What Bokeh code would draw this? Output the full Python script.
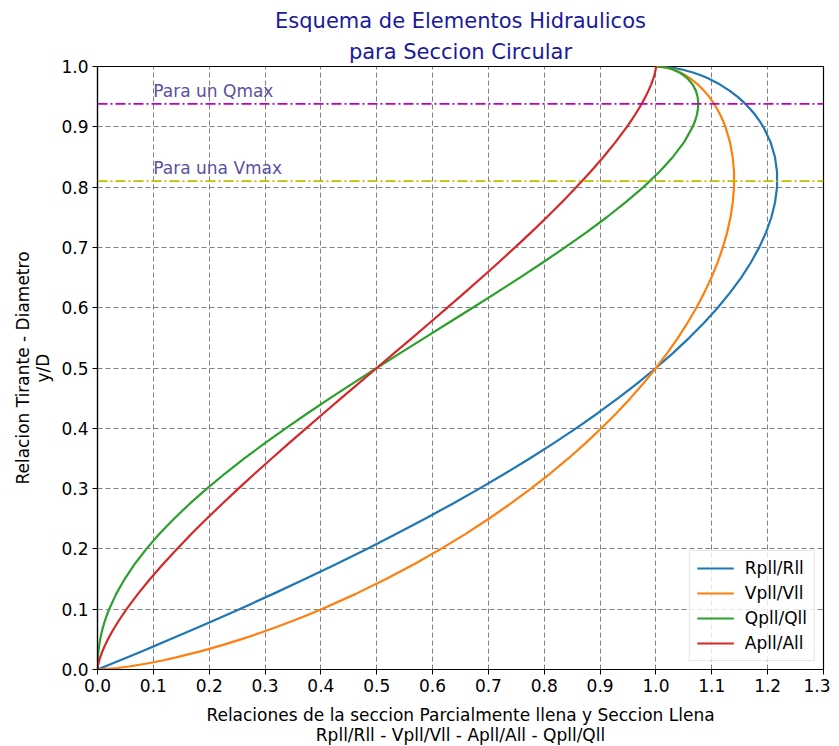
from bokeh.plotting import figure
from bokeh.models import Span, Label, SingleIntervalTicker, NumeralTickFormatter, Range1d, Title
from bokeh.embed import file_html
from bokeh.resources import INLINE

# y/D values and the relations
y_D = [0.0, 0.0025, 0.005, 0.01, 0.015, 0.02, 0.03, 0.04, 0.05, 0.06,
       0.07, 0.08, 0.09, 0.10, 0.125, 0.15, 0.175, 0.20, 0.225, 0.25,
       0.275, 0.30, 0.325, 0.35, 0.375, 0.40, 0.425, 0.45, 0.475, 0.50,
       0.525, 0.55, 0.575, 0.60, 0.625, 0.65, 0.675, 0.70, 0.725, 0.75,
       0.775, 0.80, 0.825, 0.85, 0.875, 0.90, 0.91, 0.92, 0.93, 0.94,
       0.95, 0.96, 0.97, 0.98, 0.985, 0.99, 0.995, 0.9975, 0.999, 1.0]
R_ratio = [0.0, 0.0067, 0.0133, 0.0265, 0.0397, 0.0528, 0.0789, 0.1047, 0.1302, 0.1555,
           0.1805, 0.2053, 0.2298, 0.2541, 0.3136, 0.3715, 0.4278, 0.4824, 0.5353, 0.5865,
           0.6360, 0.6838, 0.7298, 0.7740, 0.8164, 0.8569, 0.8956, 0.9323, 0.9672, 1.0,
           1.0308, 1.0595, 1.0862, 1.1106, 1.1327, 1.1526, 1.1700, 1.1849, 1.1972, 1.2067,
           1.2133, 1.2168, 1.2168, 1.2131, 1.2051, 1.1921, 1.1853, 1.1775, 1.1684, 1.1579,
           1.1458, 1.1316, 1.1148, 1.0941, 1.0814, 1.0663, 1.0466, 1.0327, 1.0205, 1.0]
V_ratio = [0.0, 0.0354, 0.0561, 0.0890, 0.1164, 0.1408, 0.1839, 0.2221, 0.2569, 0.2892,
           0.3194, 0.3480, 0.3752, 0.4012, 0.4616, 0.5168, 0.5677, 0.6151, 0.6593, 0.7007,
           0.7396, 0.7761, 0.8106, 0.8430, 0.8735, 0.9022, 0.9291, 0.9544, 0.9780, 1.0,
           1.0204, 1.0393, 1.0566, 1.0724, 1.0866, 1.0993, 1.1104, 1.1198, 1.1275, 1.1335,
           1.1376, 1.1397, 1.1398, 1.1374, 1.1324, 1.1243, 1.1200, 1.1151, 1.1093, 1.1027,
           1.0950, 1.0859, 1.0751, 1.0618, 1.0536, 1.0437, 1.0308, 1.0217, 1.0136, 1.0]
Q_ratio = [0.0, 0.0000075, 0.0000336, 0.00015, 0.00036, 0.00067, 0.0016, 0.0030, 0.0048, 0.0071,
           0.0098, 0.0130, 0.0167, 0.0209, 0.0333, 0.0486, 0.0667, 0.0876, 0.1110, 0.1370,
           0.1653, 0.1958, 0.2284, 0.2629, 0.2992, 0.3370, 0.3762, 0.4165, 0.4579, 0.5,
           0.5427, 0.5857, 0.6288, 0.6718, 0.7145, 0.7564, 0.7974, 0.8372, 0.8755, 0.9119,
           0.9460, 0.9775, 1.0058, 1.0304, 1.0507, 1.0658, 1.0701, 1.0733, 1.0752, 1.0757,
           1.0745, 1.0714, 1.0657, 1.0567, 1.0503, 1.0420, 1.0302, 1.0214, 1.0136, 1.0]
A_ratio = [0.0, 0.0002, 0.0006, 0.0017, 0.0031, 0.0048, 0.0087, 0.0134, 0.0187, 0.0245,
           0.0308, 0.0375, 0.0446, 0.0520, 0.0721, 0.0941, 0.1175, 0.1424, 0.1684, 0.1955,
           0.2235, 0.2523, 0.2818, 0.3119, 0.3425, 0.3735, 0.4049, 0.4364, 0.4682, 0.5,
           0.5318, 0.5636, 0.5951, 0.6265, 0.6575, 0.6881, 0.7182, 0.7477, 0.7765, 0.8045,
           0.8316, 0.8576, 0.8825, 0.9059, 0.9279, 0.9480, 0.9554, 0.9625, 0.9692, 0.9755,
           0.9813, 0.9866, 0.9913, 0.9952, 0.9969, 0.9983, 0.9994, 0.9998, 0.99995, 1.0]
series_names = ["Rpll/Rll", "Vpll/Vll", "Qpll/Qll", "Apll/All"]
qmax_y = 0.938
vmax_y = 0.81
title_lines = ["Esquema de Elementos Hidraulicos", "para Seccion Circular"]

FONT = "DejaVu Sans"

p = figure(frame_width=726, frame_height=603, output_backend="svg", toolbar_location=None,
           x_range=Range1d(0, 1.3), y_range=Range1d(0, 1.0),
           min_border_left=97, min_border_right=7, min_border_top=66, min_border_bottom=60)
p.title = None
# inner line first (closest to the plot), then the outer line
p.add_layout(Title(text=title_lines[1], align="center", text_font=FONT, text_font_size="21px",
                   text_font_style="normal", text_color="#1a1a9a", standoff=5, offset=0), "above")
p.add_layout(Title(text=title_lines[0], align="center", text_font=FONT, text_font_size="21px",
                   text_font_style="normal", text_color="#1a1a9a", standoff=5, offset=0), "above")

colors = ["#1f77b4", "#ff7f0e", "#2ca02c", "#d62728"]
for ys, name, c in zip([R_ratio, V_ratio, Q_ratio, A_ratio], series_names, colors):
    p.line(ys, y_D, line_color=c, line_width=2.2, line_join="round", legend_label=name)

for loc, col, txt in [(qmax_y, "#bf00bf", "Para un Qmax"), (vmax_y, "#bfbf00", "Para una Vmax")]:
    p.add_layout(Span(location=loc, dimension="width", line_color=col,
                      line_dash="10 3 2 3", line_width=1.8))
    p.add_layout(Label(x=0.1, y=loc, y_offset=3, text=txt, text_color="#5a50a0",
                       text_font=FONT, text_font_size="17px"))

p.xaxis.ticker = SingleIntervalTicker(interval=0.1)
p.yaxis.ticker = SingleIntervalTicker(interval=0.1)
for ax in (p.xaxis[0], p.yaxis[0]):
    ax.formatter = NumeralTickFormatter(format="0.0")
    ax.major_label_text_font = FONT
    ax.major_label_text_font_size = "17px"
    ax.major_label_text_color = "black"
    ax.axis_label_text_font = FONT
    ax.axis_label_text_font_size = "17px"
    ax.axis_label_text_font_style = "normal"
    ax.axis_label_text_color = "black"
    ax.axis_label_text_line_height = 1.0
    ax.minor_tick_line_color = None
    ax.major_tick_in = 0
    ax.major_tick_out = 5
    ax.major_tick_line_color = "black"
    ax.axis_line_color = "black"
    ax.axis_line_width = 1.2
    ax.major_label_standoff = 4

p.xaxis.axis_label = "Relaciones de la seccion Parcialmente llena y Seccion Llena\nRpll/Rll - Vpll/Vll - Apll/All - Qpll/Qll"
p.yaxis.axis_label = "Relacion Tirante - Diametro\ny/D"
p.xaxis.axis_label_standoff = 10

p.xgrid.grid_line_color = "gray"
p.ygrid.grid_line_color = "gray"
p.xgrid.grid_line_dash = "5 3"
p.ygrid.grid_line_dash = "5 3"
p.xgrid.grid_line_width = 1
p.ygrid.grid_line_width = 1

p.outline_line_color = "black"
p.outline_line_width = 1.2
p.outline_line_alpha = 1

lg = p.legend[0]
lg.location = "bottom_right"
lg.label_text_font = FONT
lg.label_text_font_size = "17px"
lg.label_text_color = "black"
lg.border_line_color = "#cccccc"
lg.background_fill_alpha = 0.8
lg.glyph_width = 37
lg.label_standoff = 11
lg.spacing = 5
lg.padding = 7
lg.margin = 8

open("out.html", "w").write(file_html(p, INLINE))
